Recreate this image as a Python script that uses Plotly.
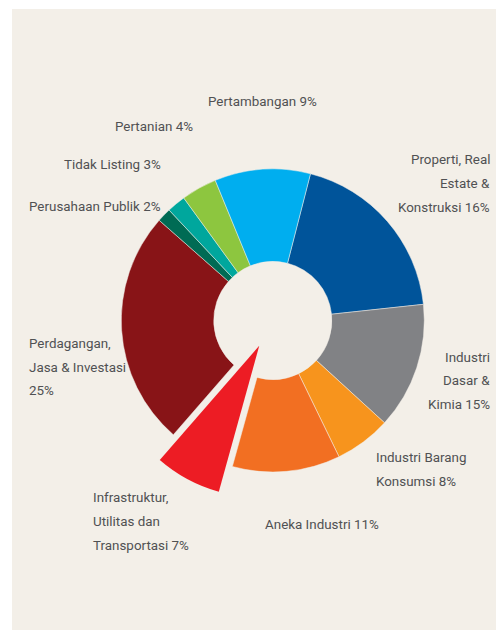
import plotly.graph_objects as go

# ---- data (clockwise from the Properti slice) ----
sectors = [
    "Properti, Real<br>Estate &<br>Konstruksi",
    "Industri<br>Dasar &<br>Kimia",
    "Industri Barang<br>Konsumsi",
    "Aneka Industri",
    "Infrastruktur,<br>Utilitas dan<br>Transportasi",
    "Perdagangan,<br>Jasa & Investasi<br>",
    "Perusahaan Publik",
    "Tidak Listing",
    "Pertanian",
    "Pertambangan",
]
label_pct = [16, 15, 8, 11, 7, 25, 2, 3, 4, 9]
# slice shares as drawn in the picture
slice_share = [19.3, 13.5, 6.0, 11.5, 7.1, 25.1, 1.5, 2.0, 3.8, 10.2]
colors = ["#00549a", "#818285", "#f7941d", "#f26f22", "#ed1c24",
          "#881417", "#006b54", "#00a79d", "#8dc63f", "#00aeef"]
pulled = 4  # index of exploded slice

BG = "#f3efe8"
TXT = "#505153"
FONT = "Roboto, Lato, sans-serif"
FSIZE = 13.4
LINE_H = 23.7

W, H = 496, 630
cx, cy, R = 272.8, 320.5, 151.5
PULL = 0.189
half = R * (1 + PULL)
dom_x = [(cx - half) / W, (cx + half) / W]
dom_y = [1 - (cy + half) / H, 1 - (cy - half) / H]

n = len(slice_share)
pulls = [PULL if i == pulled else 0 for i in range(n)]
plain = [s.replace("<br>", " ").strip() for s in sectors]

fig = go.Figure()
# donut ring (exploded slice hidden here)
fig.add_trace(go.Pie(
    values=slice_share, labels=plain,
    sort=False, direction="clockwise", rotation=14.4, hole=0.39,
    pull=pulls, textinfo="none", hoverinfo="label",
    marker=dict(colors=[c if i != pulled else "rgba(0,0,0,0)" for i, c in enumerate(colors)],
                line=dict(color=[BG if i != pulled else "rgba(0,0,0,0)" for i in range(n)], width=0.5)),
    domain=dict(x=dom_x, y=dom_y), showlegend=False,
))
# exploded slice drawn as a full wedge
fig.add_trace(go.Pie(
    values=slice_share, labels=plain,
    sort=False, direction="clockwise", rotation=14.4, hole=0,
    pull=pulls, textinfo="none", hoverinfo="label",
    marker=dict(colors=[c if i == pulled else "rgba(0,0,0,0)" for i, c in enumerate(colors)],
                line=dict(width=0)),
    domain=dict(x=dom_x, y=dom_y), showlegend=False,
))

# label placement (pixel positions of the centre of each text block)
label_pos = [
    (491, 183.5, "right"),
    (491, 380.7, "right"),
    (375, 469.5, "left"),
    (264, 524.0, "left"),
    (92, 521.5, "left"),
    (28, 367.0, "left"),
    (28, 207.0, "left"),
    (63, 164.5, "left"),
    (114, 126.5, "left"),
    (207, 102.0, "left"),
]
for name, pct, (px, py, side) in zip(sectors, label_pct, label_pos):
    txt = f"{name}{pct}%" if name.endswith("<br>") else f"{name} {pct}%"
    lines = txt.split("<br>")
    m = len(lines)
    for k, line in enumerate(lines):
        ly = py + (k - (m - 1) / 2) * LINE_H
        fig.add_annotation(
            x=px / W, y=1 - ly / H, xref="paper", yref="paper",
            text=line, showarrow=False, xanchor=side, yanchor="middle",
            align=side, borderpad=0,
            font=dict(family=FONT, size=FSIZE, color=TXT),
        )

fig.add_shape(type="rect", xref="paper", yref="paper",
              x0=12 / W, x1=1, y0=0, y1=1 - 9 / H,
              fillcolor=BG, line=dict(width=0), layer="below")

fig.update_layout(
    width=W, height=H, margin=dict(l=0, r=0, t=0, b=0),
    paper_bgcolor="white", plot_bgcolor="white",
)
fig.write_html("out.html", config={"displayModeBar": False},
               post_script="document.body.style.margin='0';document.body.style.overflow='hidden';")
